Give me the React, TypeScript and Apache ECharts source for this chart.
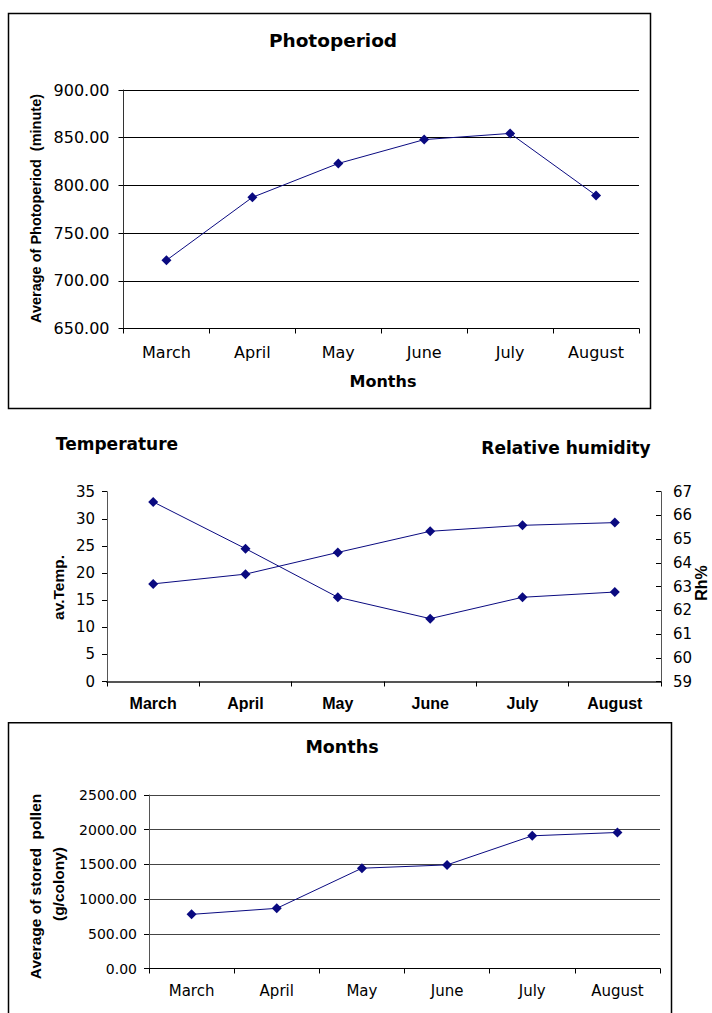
import React, { useEffect, useRef } from "react";
import * as echarts from "echarts";

const months = ["March", "April", "May", "June", "July", "August"];
const photoperiod = [721.5, 787.5, 823, 848, 854.5, 789.5];
const photoTicks = { min: 650, max: 900, interval: 50 };
const temperature = [18.0, 19.8, 23.8, 27.7, 28.8, 29.3];
const humidity = [66.57, 64.6, 62.55, 61.65, 62.55, 62.77];
const tempTicks = { min: 0, max: 35, interval: 5 };
const rhTicks = { min: 59, max: 67, interval: 1 };
const pollen = [780, 867, 1445, 1493, 1912, 1960];
const pollenTicks = { min: 0, max: 2500, interval: 500 };

const NAVY = "#0a0a80";
const REG = "DejaVu Sans";
const ARIAL = "Liberation Sans";

export default function App() {
  const ref = useRef<HTMLDivElement>(null);
  useEffect(() => {
    if (!ref.current) return;
    const chart = echarts.init(ref.current, null, { renderer: "svg" });
    const lineSeries = (data: number[], xi: number, yi: number) => ({
      type: "line",
      data,
      xAxisIndex: xi,
      yAxisIndex: yi,
      symbol: "diamond",
      symbolSize: 10,
      lineStyle: { color: NAVY, width: 1 },
      itemStyle: { color: NAVY },
    });
    const catAxis = (gi: number, size: number, margin: number, bold: boolean, lineW: number, lineC: string) => ({
      type: "category",
      gridIndex: gi,
      data: months,
      boundaryGap: true,
      axisLine: { show: true, lineStyle: { color: lineC, width: lineW } },
      axisTick: { show: true, length: 5, inside: false, lineStyle: { color: "#000" } },
      axisLabel: {
        fontFamily: bold ? ARIAL : REG,
        fontWeight: bold ? "bold" : "normal",
        fontSize: size,
        color: "#000",
        margin,
      },
      splitLine: { show: false },
    });
    chart.setOption({
      animation: false,
      backgroundColor: "#fff",
      grid: [
        { left: 123.5, top: 90, width: 515.5, height: 238.5 },
        { left: 107, top: 491.7, width: 554, height: 189.8 },
        { left: 149, top: 795, width: 511, height: 173.5 },
      ],
      xAxis: [
        catAxis(0, 16, 16, false, 1, "#000"),
        catAxis(1, 16, 14, true, 2, "#555"),
        catAxis(2, 15, 15, false, 1, "#000"),
      ],
      yAxis: [
        {
          type: "value",
          gridIndex: 0,
          ...photoTicks,
          axisLine: { show: true, lineStyle: { color: "#333" } },
          axisTick: { show: true, length: 5, lineStyle: { color: "#000" } },
          axisLabel: { fontFamily: REG, fontSize: 16, color: "#000", margin: 14, formatter: (v: number) => v.toFixed(2) },
          splitLine: { show: true, lineStyle: { color: "#000", width: 1 } },
        },
        {
          type: "value",
          gridIndex: 1,
          ...tempTicks,
          axisLine: { show: true, lineStyle: { color: "#555" } },
          axisTick: { show: true, length: 5, lineStyle: { color: "#000" } },
          axisLabel: { fontFamily: REG, fontSize: 15, color: "#000", margin: 12 },
          splitLine: { show: false },
        },
        {
          type: "value",
          gridIndex: 1,
          position: "right",
          ...rhTicks,
          axisLine: { show: true, lineStyle: { color: "#555" } },
          axisTick: { show: true, length: 5, inside: true, lineStyle: { color: "#000" } },
          axisLabel: { fontFamily: REG, fontSize: 15, color: "#000", margin: 12 },
          splitLine: { show: false },
        },
        {
          type: "value",
          gridIndex: 2,
          ...pollenTicks,
          axisLine: { show: true, lineStyle: { color: "#555" } },
          axisTick: { show: true, length: 5, lineStyle: { color: "#000" } },
          axisLabel: { fontFamily: REG, fontSize: 14, color: "#000", margin: 12, formatter: (v: number) => v.toFixed(2) },
          splitLine: { show: true, lineStyle: { color: "#444", width: 1 } },
        },
      ],
      series: [
        lineSeries(photoperiod, 0, 0),
        lineSeries(temperature, 1, 1),
        lineSeries(humidity, 1, 2),
        lineSeries(pollen, 2, 3),
      ],
      graphic: [
        { type: "rect", shape: { x: 8.5, y: 13.5, width: 642, height: 395 }, style: { fill: "none", stroke: "#000", lineWidth: 1.5 }, z: 10 },
        { type: "rect", shape: { x: 8.5, y: 722.7, width: 663, height: 320 }, style: { fill: "none", stroke: "#000", lineWidth: 1.5 }, z: 10 },
        { type: "text", x: 333, y: 40, style: { text: "Photoperiod", font: `bold 18.5px "${REG}"`, fill: "#000", textAlign: "center", textVerticalAlign: "middle" } },
        { type: "text", x: 383, y: 381, style: { text: "Months", font: `bold 16px "${REG}"`, fill: "#000", textAlign: "center", textVerticalAlign: "middle" } },
        { type: "text", x: 35.5, y: 208.5, rotation: Math.PI / 2, style: { text: "Average of Photoperiod  (minute)", font: `bold 14.5px "${ARIAL}"`, fill: "#000", textAlign: "center", textVerticalAlign: "middle" } },
        { type: "text", x: 117, y: 444, style: { text: "Temperature", font: `bold 17px "${REG}"`, fill: "#000", textAlign: "center", textVerticalAlign: "middle" } },
        { type: "text", x: 566, y: 448, style: { text: "Relative humidity", font: `bold 17px "${REG}"`, fill: "#000", textAlign: "center", textVerticalAlign: "middle" } },
        { type: "text", x: 58, y: 587.5, rotation: Math.PI / 2, style: { text: "av.Temp.", font: `bold 15.5px "${ARIAL}"`, fill: "#000", textAlign: "center", textVerticalAlign: "middle" } },
        { type: "text", x: 701, y: 583, rotation: Math.PI / 2, style: { text: "Rh%", font: `bold 16px "${ARIAL}"`, fill: "#000", textAlign: "center", textVerticalAlign: "middle" } },
        { type: "text", x: 342, y: 747, style: { text: "Months", font: `bold 17.5px "${REG}"`, fill: "#000", textAlign: "center", textVerticalAlign: "middle" } },
        { type: "text", x: 35, y: 886.5, rotation: Math.PI / 2, style: { text: "Average of stored  pollen", font: `bold 15.5px "${ARIAL}"`, fill: "#000", textAlign: "center", textVerticalAlign: "middle" } },
        { type: "text", x: 58, y: 884, rotation: Math.PI / 2, style: { text: "(g/colony)", font: `bold 15.5px "${ARIAL}"`, fill: "#000", textAlign: "center", textVerticalAlign: "middle" } },
      ],
    });
    return () => chart.dispose();
  }, []);
  return (
    <div
      ref={ref}
      style={{ position: "fixed", left: 0, top: 0, width: 712, height: 1013, overflow: "hidden" }}
    />
  );
}
